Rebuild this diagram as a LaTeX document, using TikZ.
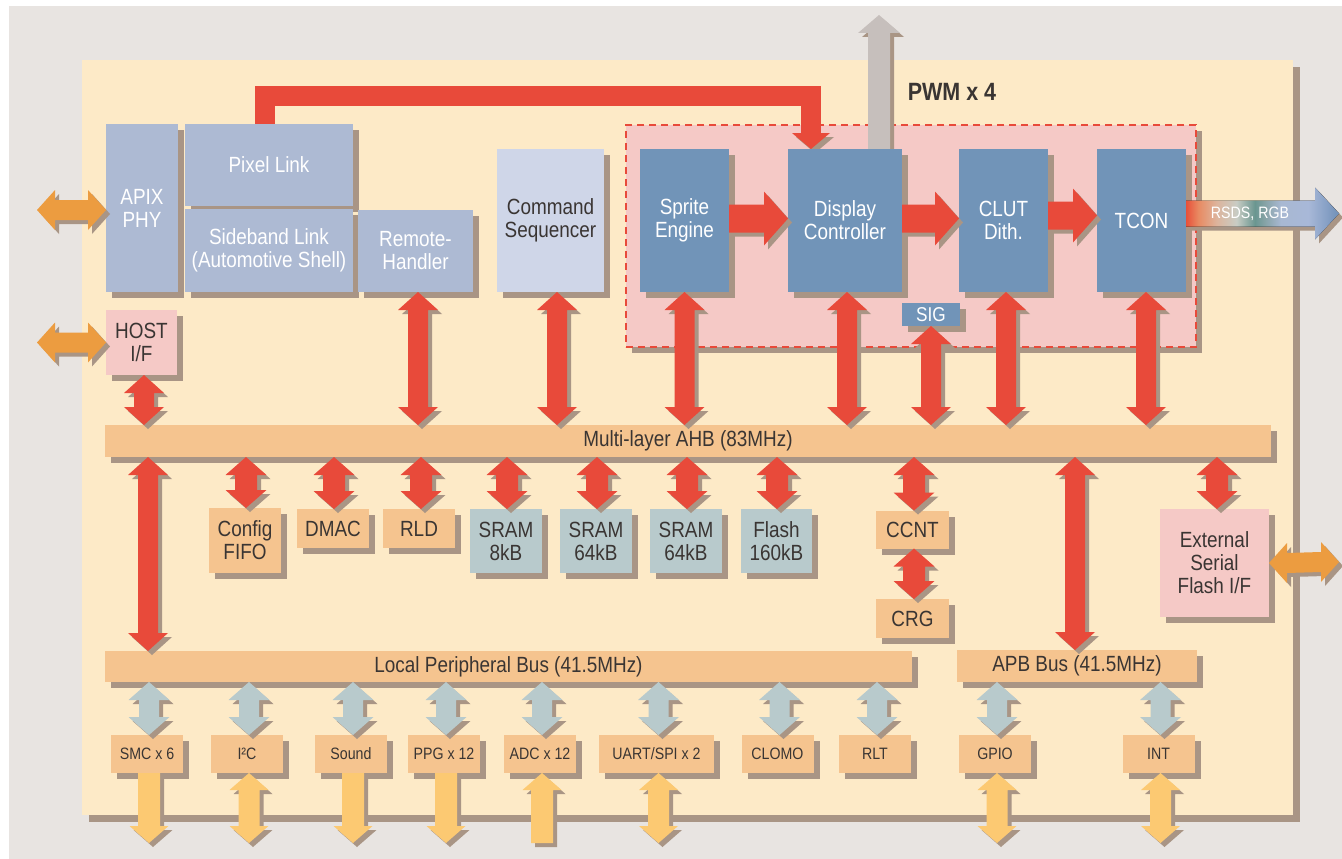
\documentclass[tikz,border=0pt]{standalone}
\usepackage{fontspec}
\setmainfont{Liberation Sans}[FakeStretch=0.86]
\definecolor{bgc}{HTML}{E8E4E1}
\definecolor{chip}{HTML}{FDEAC7}
\definecolor{shc}{HTML}{A99585}
\definecolor{pinkc}{HTML}{F5C9C6}
\definecolor{lblue}{HTML}{ADBAD3}
\definecolor{lav}{HTML}{CFD6E8}
\definecolor{steel}{HTML}{7194B8}
\definecolor{busc}{HTML}{F5C48F}
\definecolor{sramc}{HTML}{B8CACC}
\definecolor{redc}{HTML}{E84A3A}
\definecolor{orc}{HTML}{EC9C40}
\definecolor{yelc}{HTML}{FCC972}
\definecolor{greyc}{HTML}{C6BFBC}
\definecolor{txt}{HTML}{3A3533}
\definecolor{g1}{HTML}{E8503A}
\definecolor{g2}{HTML}{E88A62}
\definecolor{g3}{HTML}{DDB49C}
\definecolor{g4}{HTML}{C8CCC4}
\definecolor{g5}{HTML}{6A9690}
\definecolor{g6}{HTML}{88A4A8}
\definecolor{g7}{HTML}{A8B8D2}
\definecolor{g8}{HTML}{A8B8D8}
\definecolor{g9}{HTML}{7090B8}
\pgfdeclarehorizontalshading{rsds}{100bp}{color(0bp)=(g1); color(25bp)=(g1); color(29bp)=(g2); color(35bp)=(g3); color(41.5bp)=(g4); color(47.5bp)=(g5); color(51bp)=(g6); color(56bp)=(g7); color(65bp)=(g8); color(75bp)=(g9); color(100bp)=(g9)}
\pgfdeclarelayer{bottom}
\pgfdeclarelayer{mid}
\pgfsetlayers{bottom,mid,main}
\newcommand\fA{\fontsize{22}{23}\selectfont}
\newcommand\fB{\fontsize{16.5}{19}\selectfont}
% double vertical arrow: #2 top tip, #3 bottom tip, #4 head half width, #5 shaft half width, #6 head length
\newcommand\ArrDV[6]{\fill[#1] (#2) -- ([shift={(#4,#6)}]#2) -- ([shift={(#5,#6)}]#2) -- ([shift={(#5,-#6)}]#3) -- ([shift={(#4,-#6)}]#3) -- (#3) -- ([shift={(-#4,-#6)}]#3) -- ([shift={(-#5,-#6)}]#3) -- ([shift={(-#5,#6)}]#2) -- ([shift={(-#4,#6)}]#2) -- cycle;}
% double horizontal arrow: #2 left tip, #3 right tip
\newcommand\ArrDH[6]{\fill[#1] (#2) -- ([shift={(#6,-#4)}]#2) -- ([shift={(#6,-#5)}]#2) -- ([shift={(-#6,-#5)}]#3) -- ([shift={(-#6,-#4)}]#3) -- (#3) -- ([shift={(-#6,#4)}]#3) -- ([shift={(-#6,#5)}]#3) -- ([shift={(#6,#5)}]#2) -- ([shift={(#6,#4)}]#2) -- cycle;}
% single down arrow: #2 flat top, #3 tip bottom
\newcommand\ArrSD[6]{\fill[#1] ([shift={(-#5,0)}]#2) -- ([shift={(#5,0)}]#2) -- ([shift={(#5,-#6)}]#3) -- ([shift={(#4,-#6)}]#3) -- (#3) -- ([shift={(-#4,-#6)}]#3) -- ([shift={(-#5,-#6)}]#3) -- cycle;}
% single up arrow: #2 tip top, #3 flat bottom
\newcommand\ArrSU[6]{\fill[#1] (#2) -- ([shift={(#4,#6)}]#2) -- ([shift={(#5,#6)}]#2) -- ([shift={(#5,0)}]#3) -- ([shift={(-#5,0)}]#3) -- ([shift={(-#5,#6)}]#2) -- ([shift={(-#4,#6)}]#2) -- cycle;}
% single right arrow: #2 flat left, #3 tip right
\newcommand\ArrSR[6]{\fill[#1] ([shift={(0,-#5)}]#2) -- ([shift={(-#6,-#5)}]#3) -- ([shift={(-#6,-#4)}]#3) -- (#3) -- ([shift={(-#6,#4)}]#3) -- ([shift={(-#6,#5)}]#3) -- ([shift={(0,#5)}]#2) -- cycle;}
\tikzset{
  bsh/.style={preaction={fill=shc, transform canvas={xshift=6pt,yshift=-6pt}}},
  ash/.style={preaction={fill=shc, transform canvas={xshift=4pt,yshift=-4pt}}},
  ashd/.style={preaction={draw=shc, transform canvas={xshift=4pt,yshift=-4pt}}},
  blk/.style={rectangle, inner sep=0pt, outer sep=0pt, align=center, bsh, font=\fA},
  wbox/.style={blk, fill=lblue, text=white},
  sbox/.style={blk, fill=steel, text=white, minimum width=89pt, minimum height=143pt},
  obox/.style={blk, fill=busc, text=txt},
  pbox/.style={blk, fill=pinkc, text=txt},
  mbox/.style={blk, fill=sramc, text=txt, minimum width=72pt, minimum height=64pt},
  per/.style={obox, font=\fB, minimum width=72pt, minimum height=38pt},
}
\begin{document}
\begin{tikzpicture}[x=1pt,y=-1pt]
\useasboundingbox (0,0) rectangle (1342,859);
\begin{pgfonlayer}{bottom}
\fill[white] (0,0) rectangle (1342,859);
\fill[bgc] (9,6) rectangle (1342,859);
\node[fill=chip, inner sep=0pt, minimum width=1211pt, minimum height=755pt,
  preaction={fill=shc, transform canvas={xshift=7pt,yshift=-7pt}}] (chip) at (687.5,437.5) {};
\node[fill=pinkc, draw=redc, line width=2.5pt, dash pattern=on 7pt off 5pt, inner sep=0pt,
  minimum width=570pt, minimum height=222pt, bsh] (pwm) at (911,236) {};
\end{pgfonlayer}
\node[font=\bfseries\fontsize{25}{26}\selectfont, text=txt] (pwmlbl) at (952,92) {PWM x 4};

% top blocks
\node[wbox, minimum width=72pt, minimum height=168pt] (apix) at (142,208) {APIX\\PHY};
\node[wbox, minimum width=168pt, minimum height=82pt] (pl) at (269,165) {Pixel Link};
\node[wbox, minimum width=168pt, minimum height=83pt] (sb) at (269,250.5) {Sideband Link\\(Automotive Shell)};
\node[wbox, minimum width=115pt, minimum height=82pt] (rh) at (415.5,251) {Remote-\\Handler};
\node[blk, fill=lav, text=txt, minimum width=107pt, minimum height=143pt] (cs) at (550.5,220.5) {Command\\Sequencer};
\node[sbox] (se) at (684.5,220.5) {Sprite\\Engine};
\node[sbox, minimum width=114pt] (dc) at (845,220.5) {Display\\Controller};
\node[sbox] (clut) at (1003.5,220.5) {CLUT\\Dith.};
\node[sbox] (tcon) at (1141.5,220.5) {TCON};
\node[blk, fill=steel, text=white, font=\fontsize{20}{22}\selectfont, minimum width=58pt, minimum height=23pt] (sig) at (931,314.5) {SIG};
\node[pbox, minimum width=71pt, minimum height=65pt] (host) at (141.5,342.5) {HOST\\I/F};

% buses
\node[obox, minimum width=1166pt, minimum height=32pt] (ahb) at (688,441) {Multi-layer AHB (83MHz)};
\node[obox, minimum width=807pt, minimum height=31pt] (lpb) at (508.5,666.5) {Local Peripheral Bus (41.5MHz)};
\node[obox, minimum width=240pt, minimum height=32pt] (apb) at (1077,666) {APB Bus (41.5MHz)};

% AHB slaves
\node[obox, minimum width=72pt, minimum height=65pt] (cfg) at (245,540.5) {Config\\FIFO};
\node[obox, minimum width=72pt, minimum height=39pt] (dmac) at (333,528.5) {DMAC};
\node[obox, minimum width=72pt, minimum height=39pt] (rld) at (419,528.5) {RLD};
\node[mbox] (sram1) at (506,541) {SRAM\\8kB};
\node[mbox] (sram2) at (596,541) {SRAM\\64kB};
\node[mbox] (sram3) at (686,541) {SRAM\\64kB};
\node[mbox, minimum width=71pt] (flash) at (776.5,541) {Flash\\160kB};
\node[obox, minimum width=73pt, minimum height=38pt] (ccnt) at (912.5,529.5) {CCNT};
\node[obox, minimum width=73pt, minimum height=39pt] (crg) at (912.5,618.5) {CRG};
\node[pbox, minimum width=109pt, minimum height=108pt] (esf) at (1214.5,563) {External\\Serial\\Flash I/F};

% peripherals
\node[per] (smc) at (147,754) {SMC x 6};
\node[per] (i2c) at (247,754) {I²C};
\node[per] (snd) at (351,754) {Sound};
\node[per] (ppg) at (444,754) {PPG x 12};
\node[per] (adc) at (540,754) {ADC x 12};
\node[per, minimum width=115pt] (uart) at (656.5,754) {UART/SPI x 2};
\node[per] (clomo) at (777.5,754) {CLOMO};
\node[per] (rlt) at (875,754) {RLT};
\node[per] (gpio) at (995,754) {GPIO};
\node[per] (int) at (1158.5,754) {INT};

% ---------- connectors ----------
\begin{pgfonlayer}{mid}
% Pixel Link -> Display Controller
\draw[redc, line width=20pt, ashd] ([shift={(-4,0)}]pl.north) -- ++(0,-28) -| ([shift={(-34,-16)}]dc.north);
\fill[redc, ash] ([shift={(-34,0)}]dc.north) -- ++(-19,-16) -- ++(38,0) -- cycle;
% grey up arrow from Display Controller
\coordinate (gb) at ([shift={(34,0)}]dc.north);
\coordinate (gt) at ([shift={(34,-134)}]dc.north);
\ArrSU{greyc, ash}{gt}{gb}{21}{11}{18}
\end{pgfonlayer}
% pipeline arrows
\coordinate (r1a) at ([shift={(0,-2)}]se.east);  \coordinate (r1b) at (dc.west |- r1a);
\coordinate (r2a) at ([shift={(0,-2)}]dc.east);  \coordinate (r2b) at (clut.west |- r2a);
\coordinate (r3a) at ([shift={(0,-5)}]clut.east); \coordinate (r3b) at (tcon.west |- r3a);
\ArrSR{redc, ash}{r1a}{r1b}{27}{14}{24}
\ArrSR{redc, ash}{r2a}{r2b}{27}{14}{24}
\ArrSR{redc, ash}{r3a}{r3b}{27}{14}{24}
% RSDS, RGB output
\coordinate (q1) at ([shift={(0,-7)}]tcon.east);
\coordinate (q2) at ([shift={(153,0)}]q1);
\ArrSR{shade, shading=rsds, ash}{q1}{q2}{26}{13}{24}
\node[font=\fB, text=white] (rsdsl) at ([shift={(64,0)}]q1) {RSDS, RGB};

% masters to AHB
\foreach \n/\dx in {host/2.5, rh/2.5, cs/6.5, se/0, dc/2, sig/0, clut/2.5, tcon/4.5} {
  \coordinate (t\n) at ([shift={(\dx,0)}]\n.south);
  \coordinate (b\n) at (ahb.north -| t\n);
  \ArrDV{redc, ash}{t\n}{b\n}{20}{10}{18}
}
% AHB to slaves
\foreach \n/\dx in {cfg/1, dmac/1, rld/2, sram1/1, sram2/1, sram3/1, flash/0.5, ccnt/1.5, esf/2.5} {
  \coordinate (u\n) at ([shift={(\dx,0)}]\n.north);
  \coordinate (v\n) at (ahb.south -| u\n);
  \ArrDV{redc, ash}{v\n}{u\n}{20.5}{11}{18}
}
\coordinate (ca) at ([shift={(1.5,0)}]ccnt.south);
\coordinate (cb) at (crg.north -| ca);
\ArrDV{redc, ash}{ca}{cb}{20.5}{11}{18}
% AHB to peripheral buses
\coordinate (lt) at ([shift={(43,0)}]lpb.north west);
\coordinate (lt0) at (ahb.south -| lt);
\ArrDV{redc, ash}{lt0}{lt}{20}{10}{18}
\coordinate (at) at ([shift={(-2,0)}]apb.north);
\coordinate (at0) at (ahb.south -| at);
\ArrDV{redc, ash}{at0}{at}{20}{10}{18}
% buses to peripherals
\foreach \n in {smc,i2c,snd,ppg,adc,uart,clomo,rlt} {
  \coordinate (lb\n) at ([shift={(2,0)}]\n.north);
  \coordinate (la\n) at (lpb.south -| lb\n);
  \ArrDV{sramc, ash}{la\n}{lb\n}{20.5}{10}{18}
}
\foreach \n in {gpio,int} {
  \coordinate (lb\n) at ([shift={(2,0)}]\n.north);
  \coordinate (la\n) at (apb.south -| lb\n);
  \ArrDV{sramc, ash}{la\n}{lb\n}{20.5}{10}{18}
}
% external pins
\coordinate (ybase) at (0,843);
\foreach \n in {smc,i2c,snd,ppg,adc,uart,gpio,int} {
  \coordinate (ya\n) at ([shift={(2,0)}]\n.south);
  \coordinate (yb\n) at (ybase -| ya\n);
}
\foreach \n in {smc,snd,ppg} { \ArrSD{yelc, ash}{ya\n}{yb\n}{19.5}{11}{17} }
\foreach \n in {i2c,uart,gpio,int} { \ArrDV{yelc, ash}{ya\n}{yb\n}{19.5}{10.5}{17} }
\ArrSU{yelc, ash}{yaadc}{ybadc}{19.5}{11}{17}
% side ports
\coordinate (o1b) at ([shift={(0,2)}]apix.west);
\coordinate (o1a) at ([shift={(-69,0)}]o1b);
\ArrDH{orc, ash}{o1a}{o1b}{20}{10}{18}
\coordinate (o2a) at ([shift={(-69,0)}]host.west);
\ArrDH{orc, ash}{o2a}{host.west}{20}{10}{18}
\coordinate (o3b) at ([shift={(70,-1)}]esf.east);
\ArrDH{orc, ash}{esf.east}{o3b}{20}{10}{18}
\end{tikzpicture}
\end{document}
